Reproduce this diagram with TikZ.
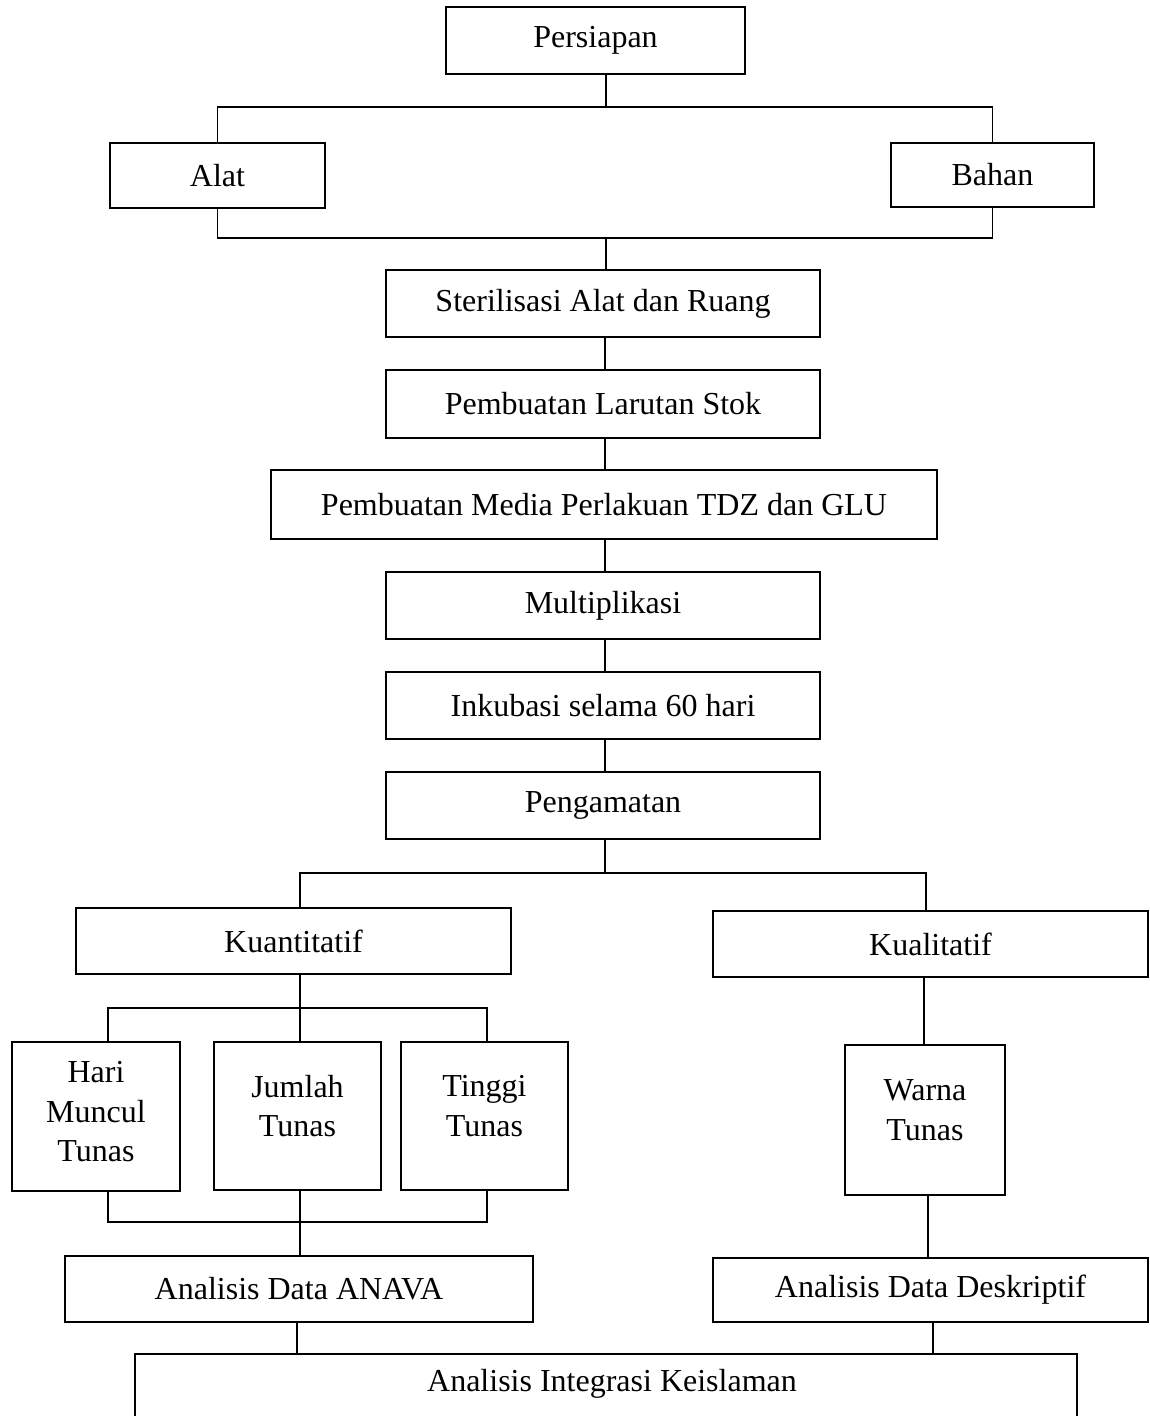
\documentclass[tikz,border=0pt]{standalone}
\usepackage{fontspec}
\setmainfont{Liberation Serif}
\begin{document}
\begin{tikzpicture}[x=0.75pt,y=-0.75pt,
  box/.style={draw, line width=1.5pt, inner sep=0pt, font=\fontsize{24}{29.6}\selectfont, align=center},
  txt/.style={inner sep=0pt, font=\fontsize{24}{29.6}\selectfont, align=center},
  conn/.style={line width=0.8pt}]
\useasboundingbox (0,0) rectangle (1149,1416);
\clip (0,0) rectangle (1149,1416);
% boxes
\node[box, minimum width=224.25pt, minimum height=50.25pt] (p) at (595.5,40.5) {Persiapan};
\node[box, minimum width=161.25pt, minimum height=48.75pt] (a) at (217.5,175.5) {Alat};
\node[box, minimum width=152.25pt, minimum height=48pt] (b) at (992.5,175) {Bahan};
\node[box, minimum width=325.5pt, minimum height=50.25pt] (s) at (603,303.5) {Sterilisasi Alat dan Ruang};
\node[box, minimum width=325.5pt, minimum height=51pt] (l) at (603,404) {Pembuatan Larutan Stok};
\node[box, minimum width=499.5pt, minimum height=51.75pt] (m) at (604,504.5) {Pembuatan Media Perlakuan TDZ dan GLU};
\node[box, minimum width=325.5pt, minimum height=50.25pt] (mu) at (603,605.5) {Multiplikasi};
\node[box, minimum width=325.5pt, minimum height=50.25pt] (in) at (603,705.5) {Inkubasi selama 60 hari};
\node[box, minimum width=325.5pt, minimum height=50.25pt] (pg) at (603,805.5) {Pengamatan};
\node[box, minimum width=326.25pt, minimum height=49.5pt] (kn) at (293.5,941) {Kuantitatif};
\node[box, minimum width=326.25pt, minimum height=49.5pt] (kl) at (930.5,944) {Kualitatif};
\node[box, minimum width=126pt, minimum height=111.75pt] (h) at (96,1116.5) {};
\node[txt] (ht) at (96,1112) {Hari\\Muncul\\Tunas};
\node[box, minimum width=125.25pt, minimum height=111pt] (j) at (297.5,1116) {};
\node[txt] (jt) at (297.5,1106) {Jumlah\\Tunas};
\node[box, minimum width=125.25pt, minimum height=111pt] (t) at (484.5,1116) {};
\node[txt] (tt) at (484.5,1106) {Tinggi\\Tunas};
\node[box, minimum width=120pt, minimum height=112.5pt] (w) at (925,1120) {};
\node[txt] (wt) at (925,1110) {Warna\\Tunas};
\node[box, minimum width=351pt, minimum height=49.5pt] (an) at (299,1289) {Analisis Data ANAVA};
\node[box, minimum width=326.25pt, minimum height=48pt] (de) at (930.5,1290) {Analisis Data Deskriptif};
\node[box, minimum width=706.5pt, minimum height=57pt] (ik) at (606,1392) {};
\node[txt] (ikt) at (612,1384) {Analisis Integrasi Keislaman};
% junction coordinates
\coordinate (j1) at (606,107);
\coordinate (j2) at (606,238);
\coordinate (j3) at (605,873);
\coordinate (kL) at (300,873);
\coordinate (kR) at (926,873);
\coordinate (q1) at (300,1008);
\coordinate (qL) at (108,1008);
\coordinate (qR) at (487,1008);
\coordinate (r1) at (300,1222);
\coordinate (rL) at (108,1222);
\coordinate (rR) at (487,1222);
\coordinate (wx) at (924,977);
\coordinate (wy) at (928,1195);
\coordinate (ax) at (297,1322);
\coordinate (dx) at (933,1322);
% connectors
\draw[conn] (p.south -| j1) -- (j1);
\draw[conn] (a.north) |- (j1) -| (b.north);
\draw[conn] (a.south) |- (j2) -| (b.south);
\draw[conn] (j2) -- (j2 |- s.north);
\draw[conn] (s.south -| j3) -- (l.north -| j3);
\draw[conn] (l.south -| j3) -- (m.north -| j3);
\draw[conn] (m.south -| j3) -- (mu.north -| j3);
\draw[conn] (mu.south -| j3) -- (in.north -| j3);
\draw[conn] (in.south -| j3) -- (pg.north -| j3);
\draw[conn] (pg.south -| j3) -- (j3);
\draw[conn] (kL |- kn.north) -- (kL) -- (kR) -- (kR |- kl.north);
\draw[conn] (kn.south -| q1) -- (q1);
\draw[conn] (qL |- h.north) -- (qL) -- (qR) -- (qR |- t.north);
\draw[conn] (q1) -- (q1 |- j.north);
\draw[conn] (rL |- h.south) -- (rL) -- (rR) -- (rR |- t.south);
\draw[conn] (r1 |- j.south) -- (r1 |- an.north);
\draw[conn] (wx |- kl.south) -- (wx |- w.north);
\draw[conn] (wy |- w.south) -- (wy |- de.north);
\draw[conn] (ax |- an.south) -- (ax |- ik.north);
\draw[conn] (dx |- de.south) -- (dx |- ik.north);
\end{tikzpicture}
\end{document}
